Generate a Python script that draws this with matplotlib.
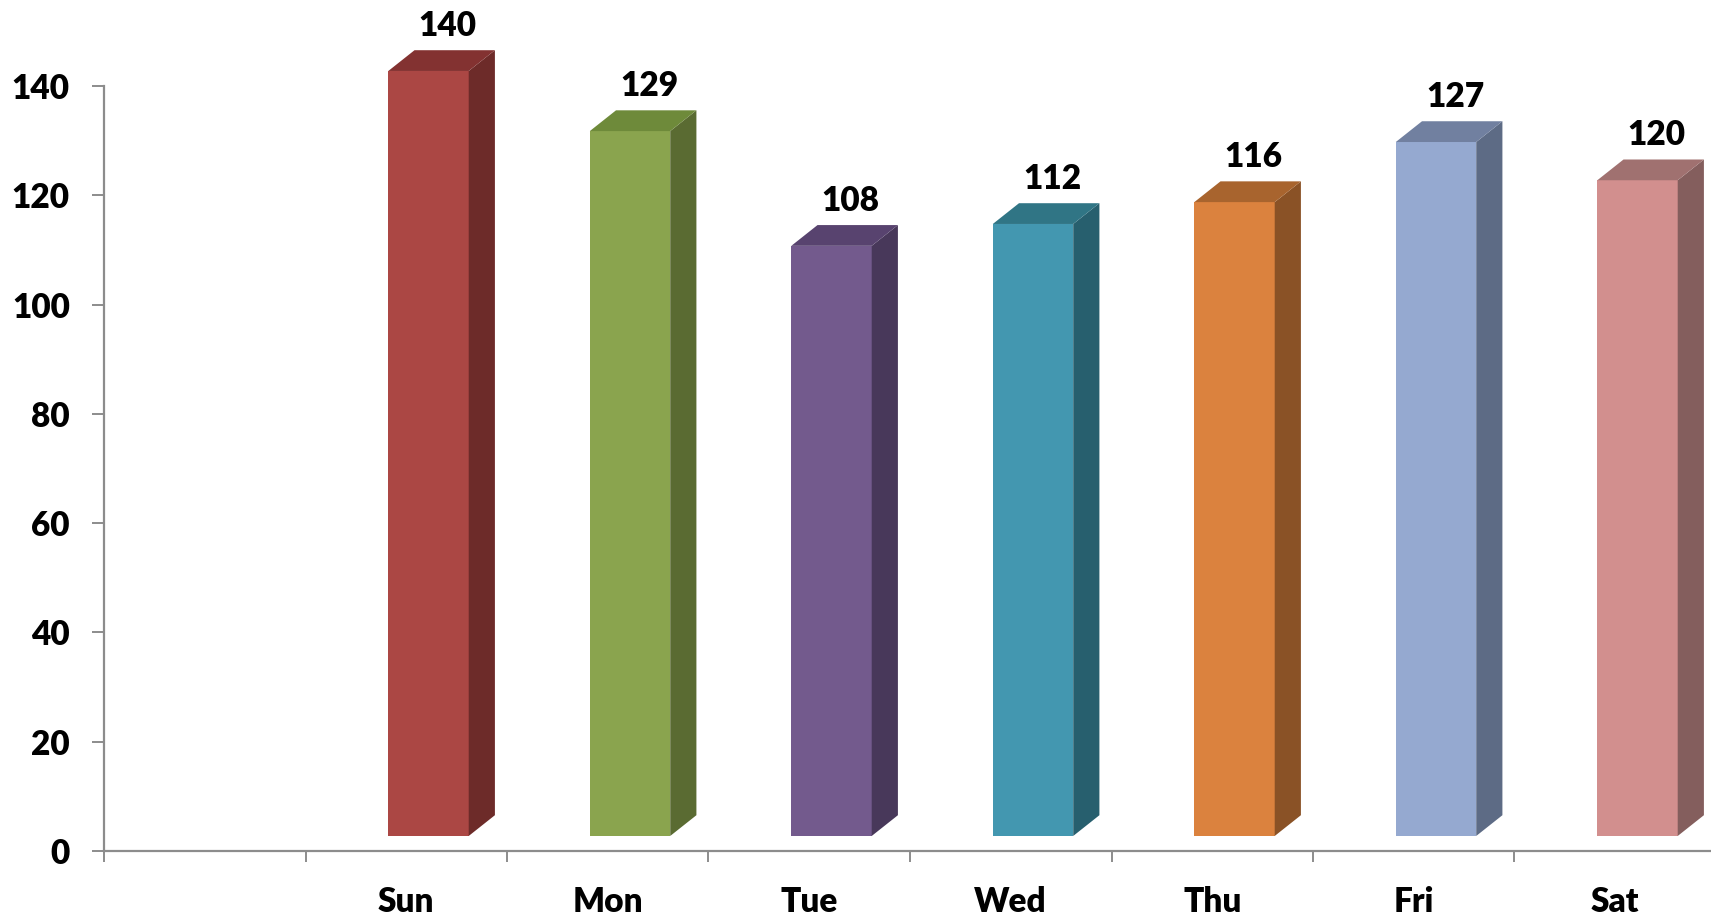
import matplotlib
matplotlib.use("Agg")
import matplotlib.pyplot as plt
from matplotlib.patches import Polygon

categories = ["", "Sun", "Mon", "Tue", "Wed", "Thu", "Fri", "Sat"]
values = [None, 140, 129, 108, 112, 116, 127, 120]
front_colors = [None, "#AB4744", "#8AA44E", "#735A8D", "#4397B0", "#DB823E", "#95A9D0", "#D28F8E"]
side_colors = [None, "#6D2B29", "#5A6B32", "#48385A", "#275F6E", "#8A5226", "#5D6B85", "#845E5D"]
top_colors = [None, "#833231", "#6E8A3A", "#58436F", "#307585", "#A8642E", "#7180A0", "#A07170"]
y_ticks = [0, 20, 40, 60, 80, 100, 120, 140]

plt.rcParams['font.family'] = ['Lato', 'DejaVu Sans']

W, H = 1711, 918
fig = plt.figure(figsize=(W / 100, H / 100), dpi=100)
ax = fig.add_axes([104 / W, 67 / H, 1612 / W, 765 / H])

n = len(categories)
ax.set_xlim(0, n)
ax.set_ylim(0, 140)

# 3D style constants (in data units)
base_off = 2.75     # front face lifted above the floor
dx, dy = 0.13, 3.8  # depth offset of the back face
left_off, right_off = -0.089, 0.31

FS = 24
FW = 'heavy'

for i, (v, fc, sc, tc) in enumerate(zip(values, front_colors, side_colors, top_colors)):
    if v is None:
        continue
    c = i + 0.5
    x0, x1 = c + left_off, c + right_off
    y0, y1 = base_off, v + base_off
    front = Polygon([(x0, y0), (x1, y0), (x1, y1), (x0, y1)], closed=True,
                    facecolor=fc, edgecolor='none', clip_on=False, zorder=3)
    side = Polygon([(x1, y0), (x1 + dx, y0 + dy), (x1 + dx, y1 + dy), (x1, y1)], closed=True,
                   facecolor=sc, edgecolor='none', clip_on=False, zorder=3)
    top = Polygon([(x0, y1), (x1, y1), (x1 + dx, y1 + dy), (x0 + dx, y1 + dy)], closed=True,
                  facecolor=tc, edgecolor='none', clip_on=False, zorder=3)
    for p in (front, side, top):
        ax.add_patch(p)
    ax.annotate(str(v), xy=((x0 + x1) / 2 + dx / 2 + 0.03, y1 + dy), xytext=(0, 24 * 0.72),
                textcoords='offset points', ha='center', va='center',
                fontsize=FS, fontweight=FW, color='black', annotation_clip=False)

for s in ('top', 'right'):
    ax.spines[s].set_visible(False)
for s in ('left', 'bottom'):
    ax.spines[s].set_color('#8C8C8C')
    ax.spines[s].set_linewidth(1.6)

ax.set_yticks(y_ticks)
ax.set_yticklabels([str(t) for t in y_ticks], fontsize=FS, fontweight=FW)
ax.tick_params(axis='y', which='major', length=8.6, width=1.4, color='#8C8C8C', pad=16)

ax.set_xticks(list(range(n + 1)))
ax.set_xticklabels([''] * (n + 1))
ax.tick_params(axis='x', which='major', length=8, width=1.4, color='#8C8C8C')
ax.set_xticks([i + 0.5 for i in range(n)], minor=True)
ax.set_xticklabels(categories, minor=True, fontsize=FS, fontweight=FW)
ax.tick_params(axis='x', which='minor', length=0, pad=25)

fig.savefig("out.png", dpi=100)
